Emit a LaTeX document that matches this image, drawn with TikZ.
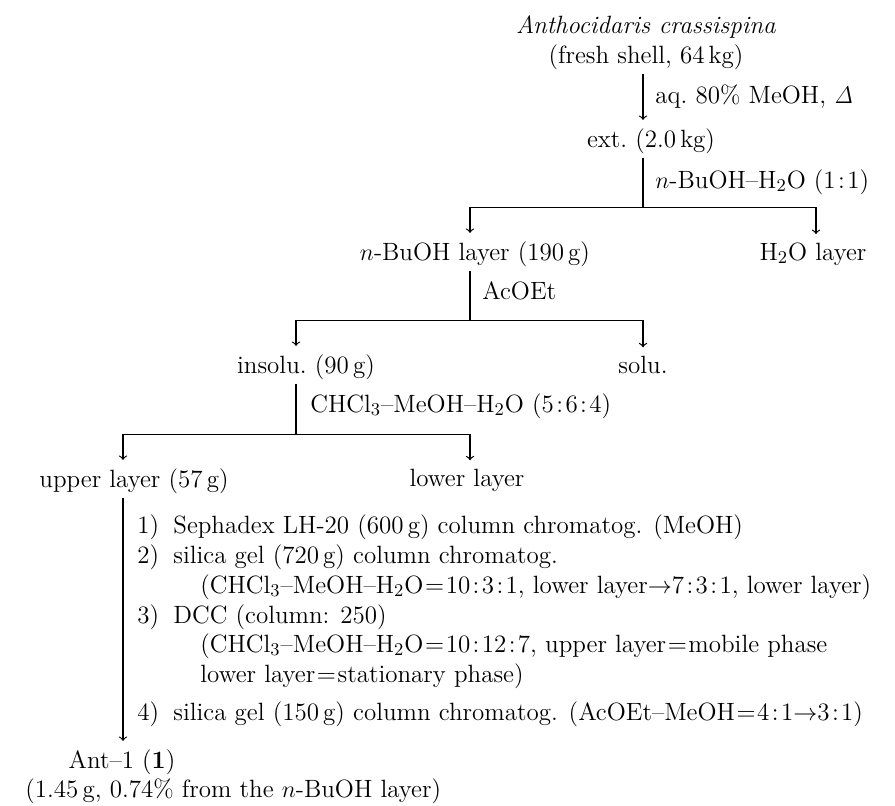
\documentclass[tikz,border=0pt]{standalone}
\usetikzlibrary{calc}
\tikzset{
  txt/.style={inner sep=0pt, anchor=base, font=\fontsize{12.5}{15}\selectfont},
  lbl/.style={txt, anchor=base west},
  stem/.style={line width=0.6pt, shorten <=2pt},
  bar/.style={line width=0.5pt},
  down/.style={line width=0.6pt, ->, shorten >=4pt},
}
\newcommand{\rt}{\kern1.2pt:\kern1.2pt}
\newcommand{\eqs}{\kern0.8pt=\kern0.8pt}
\begin{document}
\begin{tikzpicture}[x=0.5pt, y=-0.5pt]
  \useasboundingbox (0,0) rectangle (895,805);

  %%% source
  \node[txt] (src) at (646,33) {\textit{Anthocidaris crassispina}};
  \node[txt] (shell) at (646,63) {(fresh shell, 64\,kg)};
  \node[txt] (ext) at (651,147) {ext.\ (2.0\,kg)};
  \coordinate (c1) at (643,0);
  \draw[stem, down] (shell.south -| c1) -- (c1 |- ext.north);
  \node[lbl] (meoh) at (655,103) {aq.\ 80\% MeOH, $\mathit{\Delta}$};

  %%% partition 1
  \coordinate (b1) at (643,207);
  \coordinate (b1l) at (470,207);
  \coordinate (b1r) at (816,207);
  \draw[stem] (ext.south -| b1) -- (b1);
  \node[lbl] (solv1) at (655,188) {$n$-BuOH--H$_2$O (1\rt1)};
  \draw[bar] (b1l) -- (b1r);
  \node[txt] (bu) at (475,260) {$n$-BuOH layer (190\,g)};
  \node[txt] (water) at (813,260) {H$_2$O layer};
  \draw[down] (b1l) -- (b1l |- bu.north);
  \draw[down] (b1r) -- (b1r |- water.north);

  %%% partition 2
  \coordinate (b2) at (470,320);
  \coordinate (b2l) at (296,320);
  \coordinate (b2r) at (643,320);
  \draw[stem] (bu.south -| b2) -- (b2);
  \node[lbl] (acoet) at (482,299) {AcOEt};
  \draw[bar] (b2l) -- (b2r);
  \node[txt] (insol) at (306,373) {insolu.\ (90\,g)};
  \node[txt] (sol) at (643,373) {solu.};
  \draw[down] (b2l) -- (b2l |- insol.north);
  \draw[down] (b2r) -- (b2r |- sol.north);

  %%% partition 3
  \coordinate (b3) at (296,434);
  \coordinate (b3l) at (123,434);
  \coordinate (b3r) at (470,434);
  \draw[stem] (insol.south -| b3) -- (b3);
  \node[lbl] (solv2) at (310,412) {CHCl$_3$--MeOH--H$_2$O (5\rt6\rt4)};
  \draw[bar] (b3l) -- (b3r);
  \node[txt] (upper) at (134,487) {upper layer (57\,g)};
  \node[txt] (lower) at (467,486) {lower layer};
  \draw[down] (b3l) -- (b3l |- upper.north);
  \draw[down] (b3r) -- (b3r |- lower.north);

  %%% purification
  \node[lbl] (n1) at (137,533) {1)};
  \node[lbl] (s1) at (173,533) {Sephadex LH-20 (600\,g) column chromatog. (MeOH)};
  \node[lbl] (n2) at (137,563) {2)};
  \node[lbl] (s2) at (173,563) {silica gel (720\,g) column chromatog.};
  \node[lbl] (s2b) at (200,593) {(CHCl$_3$--MeOH--H$_2$O\eqs10\rt3\rt1, lower layer$\rightarrow$7\rt3\rt1, lower layer)};
  \node[lbl] (n3) at (137,623) {3)};
  \node[lbl] (s3) at (173,623) {DCC (column: 250)};
  \node[lbl] (s3b) at (200,652) {(CHCl$_3$--MeOH--H$_2$O\eqs10\rt12\rt7, upper layer\eqs mobile phase};
  \node[lbl] (s3c) at (200,682) {lower layer\eqs stationary phase)};
  \node[lbl] (n4) at (137,720) {4)};
  \node[lbl] (s4) at (173,720) {silica gel (150\,g) column chromatog. (AcOEt--MeOH\eqs4\rt1$\rightarrow$3\rt1)};

  %%% product
  \node[txt] (ant) at (122,768) {Ant--1 (\textbf{1})};
  \node[lbl] (yield) at (25,797) {(1.45\,g, 0.74\% from the $n$-BuOH layer)};
  \draw[stem, down] (upper.south -| b3l) -- (b3l |- ant.north);
\end{tikzpicture}
\end{document}
